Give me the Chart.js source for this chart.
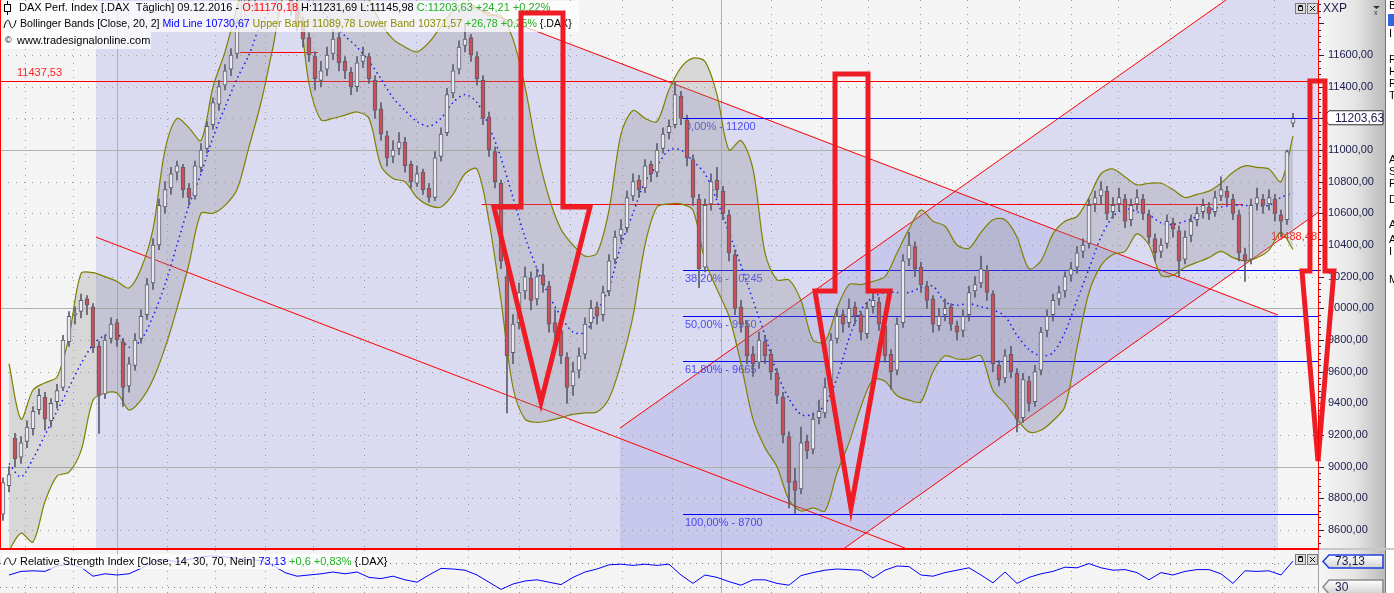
<!DOCTYPE html>
<html lang="de">
<head>
<meta charset="UTF-8">
<title>DAX Perf. Index – Täglich</title>
<style>
  html, body { margin: 0; padding: 0; background: #f4f4f4; overflow: hidden; }
  #wrap { position: relative; width: 1394px; height: 593px; }
  #mainChart { position: absolute; left: 0; top: 0; }
  #rsiChart { position: absolute; left: 0; top: 550px; }
  #sep { position: absolute; left: 0; top: 548px; width: 1319px; height: 2px; background: #ff0000; }
  #sepAxis { position: absolute; left: 1319px; top: 548px; width: 75px; height: 2px; background: #c8c8c8; }
</style>
<script src="https://cdn.jsdelivr.net/npm/chart.js"></script>
</head>
<body>
<div id="wrap">
  <canvas id="mainChart" width="1394" height="548"></canvas>
  <div id="sep"></div><div id="sepAxis"></div>
  <canvas id="rsiChart" width="1394" height="43"></canvas>
</div>
<script>
// ---------- data (one candle ~ 2.5 trading days, index 0..215) ----------
const opens = [8700,8880,9180,9060,9160,9240,9360,9440,9290,9410,
  9500,9790,9960,9980,10060,10010,9760,9460,9810,9910,
  9790,9510,9640,9810,9960,10160,10400,10640,10760,10860,
  10890,10760,10710,10890,11010,11160,11290,11410,11510,11610,
  11810,11960,12040,12010,12160,12210,12340,12240,12090,11910,
  11810,11710,11590,11440,11510,11610,11710,11560,11490,11400,
  11560,11590,11440,11260,11090,10960,11010,11050,10910,10790,
  10860,10760,10700,10960,11110,11360,11510,11660,11710,11590,
  11440,11210,10990,10790,10200,9720,9910,10110,10190,10060,
  10210,10140,9910,9860,9690,9510,9610,9710,9910,10010,
  9960,10110,10310,10460,10510,10710,10810,10760,10910,10860,
  11010,11110,11160,11340,11190,10940,10690,10260,10660,10810,
  10740,10590,10340,10010,9890,9710,9660,9790,9710,9590,
  9440,9190,8910,8860,9160,9110,9310,9340,9510,9810,
  9960,9910,10010,9960,9840,10010,10040,9890,9710,9610,
  9910,10310,10390,10260,10140,10060,9890,9960,10010,9890,
  9860,9960,10110,10160,10240,10090,9640,9560,9710,9590,
  9310,9540,9410,9610,9860,9960,10060,10110,10210,10260,
  10360,10410,10660,10710,10740,10610,10660,10690,10560,10660,
  10690,10590,10440,10360,10410,10540,10490,10310,10460,10560,
  10610,10640,10610,10710,10740,10690,10590,10340,10310,10660,
  10690,10660,10690,10590,10560,11170.18];
const highs = [8930,9000,9210,9190,9290,9380,9490,9470,9430,9520,
  9830,9980,10010,10090,10080,10030,9790,9830,9940,9930,
  9810,9690,9840,9990,10190,10440,10690,10800,10890,10930,
  10910,10790,10930,11040,11180,11330,11440,11540,11640,11830,
  11990,12090,12080,12190,12250,12390,12370,12270,12110,11950,
  11840,11740,11620,11560,11650,11760,11740,11590,11520,11590,
  11650,11610,11470,11300,11120,11060,11110,11080,10930,10900,
  10880,10790,10990,11140,11390,11540,11690,11800,11730,11620,
  11470,11240,11020,10810,10280,9960,10160,10260,10230,10250,
  10280,10170,9990,9880,9720,9660,9750,9940,10050,10040,
  10140,10340,10490,10560,10740,10850,10840,10940,10930,11040,
  11140,11190,11430,11370,11220,10970,10720,10690,10850,10890,
  10770,10620,10370,10050,9920,9760,9850,9830,9740,9620,
  9470,9220,8990,9250,9200,9340,9420,9560,9840,10000,
  9990,10060,10040,9980,10040,10100,10070,9920,9740,9940,
  10340,10480,10420,10290,10170,10080,10000,10060,10030,9920,
  9990,10140,10200,10330,10270,10110,9670,9740,9760,9620,
  9590,9570,9640,9880,9990,10090,10140,10230,10290,10390,
  10440,10690,10740,10800,10770,10700,10760,10720,10690,10750,
  10720,10620,10470,10440,10590,10570,10520,10490,10590,10640,
  10690,10670,10740,10830,10770,10720,10620,10380,10690,10760,
  10720,10750,10720,10620,11000,11231.69];
const lows = [8660,8840,9000,9020,9120,9200,9330,9230,9250,9370,
  9480,9760,9900,9940,9960,9720,9210,9430,9780,9760,
  9380,9470,9610,9780,9930,10120,10370,10600,10720,10810,
  10700,10650,10690,10860,10980,11130,11250,11380,11470,11580,
  11770,11900,11880,11960,12080,12170,12200,12050,11850,11750,
  11650,11560,11380,11400,11470,11570,11500,11450,11350,11370,
  11520,11420,11200,11060,10900,10920,10970,10860,10760,10770,
  10720,10670,10680,10930,11090,11330,11480,11620,11560,11410,
  11160,10960,10760,10250,9340,9650,9870,10060,9990,10020,
  10100,9850,9800,9650,9400,9450,9560,9680,9870,9900,
  9920,10080,10280,10420,10480,10680,10700,10730,10800,10830,
  10980,11070,11140,11160,10900,10650,10130,10230,10620,10700,
  10560,10300,9960,9850,9650,9570,9620,9650,9550,9400,
  9150,8740,8700,8830,9050,9080,9270,9310,9480,9780,
  9850,9880,9900,9800,9810,9970,9860,9660,9490,9580,
  9880,10270,10200,10100,10000,9850,9860,9920,9860,9800,
  9820,9920,10070,10130,10050,9600,9510,9530,9560,9220,
  9280,9350,9380,9580,9820,9920,10020,10070,10170,10220,
  10320,10380,10610,10660,10560,10570,10620,10510,10520,10620,
  10560,10410,10300,10320,10380,10450,10200,10280,10420,10520,
  10570,10560,10580,10680,10660,10560,10300,10170,10280,10620,
  10600,10620,10550,10450,10530,11145.98];
const closes = [8900,8950,9050,9150,9250,9350,9450,9300,9400,9480,
  9800,9950,9970,10050,10020,9750,9450,9800,9900,9800,
  9500,9650,9800,9950,10150,10400,10650,10750,10850,10900,
  10750,10700,10900,11000,11150,11300,11400,11500,11600,11800,
  11950,12050,12000,12150,12200,12350,12250,12100,11900,11800,
  11700,11600,11450,11500,11600,11700,11550,11500,11400,11550,
  11600,11450,11250,11100,10950,11000,11050,10900,10800,10850,
  10750,10700,10950,11100,11350,11500,11650,11700,11600,11450,
  11200,11000,10800,10300,9700,9900,10100,10200,10050,10200,
  10150,9900,9850,9700,9500,9600,9700,9900,10000,9950,
  10100,10300,10450,10500,10700,10800,10750,10900,10850,11000,
  11100,11150,11350,11200,10950,10700,10250,10650,10800,10750,
  10600,10350,10000,9900,9700,9650,9800,9700,9600,9450,
  9200,8900,8850,9150,9100,9300,9350,9500,9800,9950,
  9900,10000,9950,9850,10000,10050,9900,9700,9600,9900,
  10300,10400,10250,10150,10050,9900,9950,10000,9900,9850,
  9950,10100,10150,10250,10100,9650,9550,9700,9600,9300,
  9550,9400,9600,9850,9950,10050,10100,10200,10250,10350,
  10400,10650,10700,10750,10600,10650,10700,10550,10650,10700,
  10600,10450,10350,10400,10550,10500,10300,10450,10550,10600,
  10650,10600,10700,10750,10700,10600,10350,10300,10650,10700,
  10650,10700,10600,10550,10990,11203.63];

// Bollinger Bands (20, 2), read every second candle (index 1, 3, 5 ... 215)
const bbUpper = [9650,9300,9484,9530,9566,9820,10220,10225,10200,10170,
  10128,10250,10500,11000,11200,11140,11060,11398,11620,11900,
  12150,12300,12400,12500,12550,12500,12450,12350,12250,12100,
  11950,11800,11700,11650,11620,11680,11780,11880,11930,11900,
  11850,11850,11700,11400,11000,10700,10500,10400,10330,10350,
  10620,11100,11250,11200,11180,11380,11520,11580,11560,11350,
  11000,11060,10880,10350,10180,10180,10050,9800,9790,10000,
  10150,10150,10170,10200,10350,10500,10620,10550,10520,10400,
  10380,10480,10560,10560,10450,10250,10300,10470,10550,10580,
  10700,10850,10880,10830,10780,10790,10790,10750,10700,10720,
  10740,10790,10860,10900,10890,10880,10800,11089.78];
const bbMid = [9020,8935,9050,9200,9350,9500,9650,9770,9830,9840,
  9755,9800,9950,10150,10400,10650,10850,11080,11270,11450,
  11600,11800,11900,12000,12000,11950,11880,11800,11720,11650,
  11560,11450,11330,11250,11180,11150,11200,11300,11350,11300,
  11150,10950,10700,10450,10250,10080,9950,9850,9850,9980,
  10130,10400,10600,10800,10900,11000,11000,10930,10850,10680,
  10480,10270,10050,9830,9590,9430,9330,9330,9390,9560,
  9810,9990,10070,10100,10100,10100,10130,10140,10040,10020,
  10030,10010,9990,9950,9830,9740,9700,9720,9850,10050,
  10250,10450,10580,10630,10610,10590,10540,10530,10550,10580,
  10620,10640,10650,10650,10650,10650,10700,10730.67];
const bbLower = [8470,8580,8524,8780,8940,8966,9100,9420,9465,9465,
  9358,9420,9550,9750,10000,10280,10600,10600,10650,10750,
  11020,11300,11650,12000,11950,11420,11190,11200,11220,11240,
  11200,10900,10820,10800,10700,10650,10640,10720,10850,10880,
  10550,10050,9500,9300,9280,9290,9310,9330,9340,9345,
  9430,9650,9950,10400,10640,10660,10660,10620,10300,10120,
  9950,9650,9300,9120,9000,8790,8720,8740,8720,8960,
  9150,9380,9550,9540,9450,9420,9410,9600,9700,9680,
  9680,9700,9480,9400,9300,9220,9230,9290,9380,9750,
  10100,10270,10340,10360,10470,10400,10210,10210,10260,10290,
  10320,10360,10320,10300,10320,10368,10480,10371.57];

// RSI (14), read at the same positions
const rsiValues = [50,56,57,56,65,68,63,48,52,50,
  52,61,72,76,72,76,80,82,80,78,
  76,74,66,54,48,50,52,55,52,55,
  46,44,48,42,38,50,61,60,58,50,
  38,26,35,40,42,38,34,46,55,60,
  67,68,66,68,66,68,50,36,50,46,
  39,33,42,42,36,33,49,54,58,60,
  59,58,45,58,65,64,50,48,54,58,
  62,50,37,55,36,46,52,56,63,62,
  69,62,58,59,54,42,54,50,56,59,
  59,52,36,57,56,57,50,73.13];

// axis ticks and calendar grid (candle index units)
const yTicks = [8600,8800,9000,9200,9400,9600,9800,10000,10200,10400,10600,10800,11000,11200,11400,11600,11800];
const monthLines = [3.67,11.67,19.0,27.33,35.33,43.67,51.67,60.25,68.83,77.42,86.0,94.58,
  103.17,111.5,119.67,128.0,136.33,144.17,152.83,160.67,169.33,178.0,185.83,194.5,203.17,211.83];
const yearLines = [19.0, 119.67];

// drawing tools: [candle index, price]
const downChannelUpper = [[77.8, 11911], [212.5, 9958]];
const downChannelLower = [[15.5, 10450], [150.33, 8486]];
const downChannelArea = [[15.5, 12820], [212.5, 9958], [212.5, 8480], [15.5, 8480]];
const upChannelUpper = [[102.83, 9244], [219.17, 12358]];
const upChannelLower = [[139.83, 8474], [219.17, 10605]];
const upChannelArea = [[102.83, 9244], [219.17, 12358], [219.17, 10605], [102.83, 7480]];
const levelPrices = [11437.53, 11620, 10660];
const levelFrom = [-0.5, 39.5, 79.8];
const levelTo = [219.17, 52.5, 206.7];
const fibNames = ['0,00%', '38,20%', '50,00%', '61,80%', '100,00%'];
const fibPrices = [11200, 10245, 9950, 9665, 8700];
const fibFrom = 113.33;
const arrowShapes = [
  [[86.33,11865],[93.33,11865],[93.33,10640],[97.83,10640],[89.67,9408],[81.83,10640],[86.33,10640]],
  [[138.67,11480],[144.17,11480],[144.17,10109],[147.83,10109],[141.33,8739],[135.33,10109],[138.67,10109]],
  [[217.83,11436],[220.33,11436],[220.33,10236],[221.83,10236],[219.17,9036],[216.5,10236],[217.83,10236]]
];

// ---------- helpers ----------
const FONT = '"Liberation Sans", Arial, sans-serif';
const last = closes.length - 1;
const fmt = v => v.toFixed(2).replace('.', ',');
const X = (c, i) => c.scales.x.getPixelForValue(i);
const Y = (c, v) => c.scales.y.getPixelForValue(v);

function tracePath(ctx, c, pts) {
  ctx.beginPath();
  pts.forEach(([i, v], k) => k ? ctx.lineTo(X(c, i), Y(c, v)) : ctx.moveTo(X(c, i), Y(c, v)));
}
function textRuns(ctx, x, y, parts) {
  parts.forEach(([t, col]) => { ctx.fillStyle = col; ctx.fillText(t, x, y); x += ctx.measureText(t).width; });
  return x;
}
function axisPanel(ctx, left, h) {
  const g = ctx.createLinearGradient(left, 0, 1385, 0);
  g.addColorStop(0, '#f7f7f7');
  g.addColorStop(0.55, '#e5e5e5');
  g.addColorStop(1, '#bbbbbb');
  ctx.fillStyle = g;
  ctx.fillRect(left + 1, 0, 1385 - left, h);
  ctx.fillStyle = '#777777';
  ctx.fillRect(1385, 0, 1, h);
  ctx.fillStyle = '#ffffff';
  ctx.fillRect(1386, 0, 8, h);
}
function monthGrid(ctx, c, top, bottom) {
  monthLines.forEach(i => {
    const x = Math.round(X(c, i)) + 0.5;
    const solid = yearLines.includes(i);
    ctx.strokeStyle = solid ? '#a8b5a8' : '#9c9c9c';
    ctx.setLineDash(solid ? [] : [1, 6]);
    ctx.beginPath(); ctx.moveTo(x, top); ctx.lineTo(x, bottom); ctx.stroke();
  });
  ctx.setLineDash([]);
}
function paneButtons(ctx, y) {
  [1295, 1307].forEach((x, k) => {
    ctx.fillStyle = '#dcdcdc'; ctx.fillRect(x, y, 10, 10);
    ctx.strokeStyle = '#7a7a7a'; ctx.lineWidth = 1; ctx.strokeRect(x + 0.5, y + 0.5, 10, 10);
    ctx.strokeStyle = '#111111';
    ctx.beginPath();
    if (k === 0) { ctx.rect(x + 3.5, y + 3.5, 4, 4); ctx.moveTo(x + 3.5, y + 2.5); ctx.lineTo(x + 7.5, y + 2.5); }
    else { ctx.moveTo(x + 3, y + 3); ctx.lineTo(x + 8, y + 8); ctx.moveTo(x + 8, y + 3); ctx.lineTo(x + 3, y + 8); }
    ctx.stroke();
  });
}
function tagBox(ctx, x0, y0, w, h, border, text, plain) {
  const mid = y0 + h / 2;
  ctx.beginPath();
  ctx.moveTo(x0, mid); ctx.lineTo(x0 + 6, y0); ctx.lineTo(x0 + w, y0);
  ctx.lineTo(x0 + w, y0 + h); ctx.lineTo(x0 + 6, y0 + h); ctx.closePath();
  if (plain) { ctx.fillStyle = '#ffffff'; }
  else {
    const g = ctx.createLinearGradient(0, y0, 0, y0 + h);
    g.addColorStop(0, '#ffffff'); g.addColorStop(1, '#d2d2d2');
    ctx.fillStyle = g;
  }
  ctx.fill();
  ctx.strokeStyle = border; ctx.lineWidth = plain ? 1 : 1.5; ctx.stroke();
  ctx.fillStyle = '#1b1b4b'; ctx.textAlign = 'left'; ctx.textBaseline = 'middle';
  ctx.font = '12px ' + FONT;
  ctx.fillText(text, x0 + 12, mid + 0.5);
}

// ---------- main pane decorations ----------
const mainDecor = {
  id: 'mainDecor',
  beforeDraw(c) {
    const { ctx, chartArea: a } = c;
    ctx.save();
    ctx.fillStyle = '#f4f4f4';
    ctx.fillRect(0, 0, c.width, c.height);
    axisPanel(ctx, a.right, c.height);
    // side panel letters
    ctx.font = '11px ' + FONT; ctx.textBaseline = 'middle'; ctx.textAlign = 'left';
    ctx.fillStyle = '#3366dd'; ctx.fillRect(1388, 14, 6, 12);
    ctx.fillStyle = '#000';
    [['B', 6], ['I', 34], ['F', 60], ['H', 72], ['F', 84], ['T', 96], ['A', 160], ['S', 172], ['F', 184], ['D', 200], ['A', 225], ['A', 240], ['I', 252], ['M', 280]]
      .forEach(([t, y]) => ctx.fillText(t, 1389, y));
    ctx.restore();
  },
  beforeDatasetsDraw(c) {
    const { ctx, chartArea: a } = c;
    ctx.save();
    ctx.beginPath(); ctx.rect(a.left, a.top, a.width, a.height); ctx.clip();

    // channel areas
    ctx.fillStyle = 'rgba(160,160,232,0.3)';
    tracePath(ctx, c, downChannelArea); ctx.closePath(); ctx.fill();
    tracePath(ctx, c, upChannelArea); ctx.closePath(); ctx.fill();

    // grid
    ctx.lineWidth = 1;
    yTicks.forEach(v => {
      const y = Math.round(Y(c, v)) + 0.5;
      const solid = v % 1000 === 0;
      ctx.strokeStyle = solid ? '#a8b5a8' : '#9c9c9c';
      ctx.setLineDash(solid ? [] : [1, 7]);
      ctx.beginPath(); ctx.moveTo(a.left, y); ctx.lineTo(a.right, y); ctx.stroke();
    });
    ctx.setLineDash([]);
    monthGrid(ctx, c, a.top, a.bottom);

    // red levels and channels
    ctx.strokeStyle = '#ff0000'; ctx.lineWidth = 1;
    levelPrices.forEach((v, k) => {
      const y = Math.round(Y(c, v)) + 0.5;
      ctx.beginPath(); ctx.moveTo(X(c, levelFrom[k]), y); ctx.lineTo(X(c, levelTo[k]), y); ctx.stroke();
    });
    [downChannelUpper, downChannelLower, upChannelUpper, upChannelLower].forEach(l => { tracePath(ctx, c, l); ctx.stroke(); });

    // fibonacci
    ctx.strokeStyle = '#0000ff';
    ctx.font = '11px ' + FONT; ctx.textBaseline = 'middle'; ctx.textAlign = 'left';
    fibPrices.forEach((v, k) => {
      const y = Math.round(Y(c, v)) + 0.5;
      ctx.beginPath(); ctx.moveTo(X(c, fibFrom), y); ctx.lineTo(a.right, y); ctx.stroke();
      ctx.fillStyle = 'rgba(40,40,240,0.8)';
      ctx.fillText(fibNames[k] + ' - ' + fibPrices[k], X(c, fibFrom) + 2, y + 8.5);
    });

    // level labels
    ctx.fillStyle = '#ff2020';
    ctx.fillText(fmt(levelPrices[0]), 17, Y(c, levelPrices[0]) - 7.5);
    ctx.textAlign = 'right';
    ctx.fillText('10488,48', a.right - 1, 237);
    ctx.restore();
  },
  afterDraw(c) {
    const { ctx, chartArea: a } = c;
    ctx.save();
    // axis tick marks
    ctx.strokeStyle = '#20203c'; ctx.lineWidth = 1;
    for (let v = 8520; v <= 11920; v += 40) {
      const y = Math.round(Y(c, v)) + 0.5;
      ctx.beginPath(); ctx.moveTo(a.right + 1, y); ctx.lineTo(a.right + (v % 200 === 0 ? 6 : 3), y); ctx.stroke();
    }
    ctx.font = '12px ' + FONT; ctx.fillStyle = '#1b1b4b'; ctx.textBaseline = 'middle'; ctx.textAlign = 'left';
    ctx.fillText('XXP', 1323, 9);
    ctx.fillStyle = '#333';
    ctx.beginPath(); ctx.moveTo(1373, 6); ctx.lineTo(1380, 6); ctx.lineTo(1376.5, 9); ctx.fill();
    ctx.font = '7px ' + FONT; ctx.fillText('x', 1374, 13);

    // last price box
    ctx.strokeStyle = '#0000ff';
    const yl = Math.round(Y(c, closes[last])) + 0.5;
    ctx.beginPath(); ctx.moveTo(X(c, fibFrom), yl); ctx.lineTo(a.right, yl); ctx.stroke();
    tagBox(ctx, 1323, Y(c, closes[last]) - 7, 60, 14, '#303030', fmt(closes[last]), true);

    paneButtons(ctx, 3);

    // legend
    ctx.fillStyle = 'rgba(255,255,255,0.72)';
    ctx.fillRect(1, 1, 578, 31);
    ctx.fillRect(1, 32, 150, 17);
    ctx.font = '11px ' + FONT; ctx.textBaseline = 'middle'; ctx.textAlign = 'left';
    ctx.strokeStyle = '#000'; ctx.lineWidth = 1;
    ctx.beginPath(); ctx.moveTo(7.5, 1); ctx.lineTo(7.5, 15); ctx.stroke();
    ctx.fillStyle = '#fff'; ctx.fillRect(4.5, 4.5, 6, 7); ctx.strokeRect(4.5, 4.5, 6, 7);
    textRuns(ctx, 19, 8, [
      ['DAX Perf. Index [.DAX  Täglich] 09.12.2016 - ', '#000000'],
      ['O:' + fmt(opens[last]), '#ff0000'],
      [' H:' + fmt(highs[last]) + ' L:' + fmt(lows[last]) + ' ', '#000000'],
      ['C:' + fmt(closes[last]) + ' +24,21 +0,22%', '#22b022']
    ]);
    ctx.beginPath(); ctx.moveTo(4, 28); ctx.bezierCurveTo(6, 18, 9, 19, 10, 24); ctx.bezierCurveTo(11, 29, 14, 30, 16, 20); ctx.stroke();
    ctx.font = '10.6px ' + FONT;
    textRuns(ctx, 20, 24.5, [
      ['Bollinger Bands [Close, 20, 2] ', '#000000'],
      ['Mid Line ' + fmt(bbMid[bbMid.length - 1]) + ' ', '#0000ff'],
      ['Upper Band ' + fmt(bbUpper[bbUpper.length - 1]) + ' Lower Band ' + fmt(bbLower[bbLower.length - 1]) + ' ', '#8c8c00'],
      ['+26,78 +0,25%', '#22b022'],
      [' {.DAX}', '#000000']
    ]);
    ctx.font = '9px ' + FONT; ctx.fillStyle = '#000'; ctx.fillText('©', 5, 40.5);
    ctx.font = '11px ' + FONT; ctx.fillText('www.tradesignalonline.com', 17, 40.5);

    // red arrows
    ctx.strokeStyle = '#ee1c25'; ctx.lineWidth = 5; ctx.lineJoin = 'miter';
    arrowShapes.forEach(s => { tracePath(ctx, c, s); ctx.closePath(); ctx.stroke(); });

    // pane border
    ctx.strokeStyle = '#ff0000'; ctx.lineWidth = 1;
    ctx.beginPath(); ctx.moveTo(0.5, 0); ctx.lineTo(0.5, c.height); ctx.moveTo(a.right + 0.5, 0); ctx.lineTo(a.right + 0.5, c.height); ctx.stroke();
    ctx.restore();
  }
};

// ---------- RSI pane decorations ----------
const rsiDecor = {
  id: 'rsiDecor',
  beforeDraw(c) {
    const { ctx, chartArea: a } = c;
    ctx.save();
    ctx.fillStyle = '#f4f4f4'; ctx.fillRect(0, 0, c.width, c.height);
    axisPanel(ctx, a.right, c.height);
    ctx.restore();
  },
  beforeDatasetsDraw(c) {
    const { ctx, chartArea: a } = c;
    ctx.save();
    ctx.lineWidth = 1;
    monthGrid(ctx, c, a.top, a.bottom);
    ctx.strokeStyle = '#7c7c7c'; ctx.setLineDash([1, 5]);
    [70, 30].forEach(v => {
      const y = Math.round(Y(c, v)) + 0.5;
      ctx.beginPath(); ctx.moveTo(a.left, y); ctx.lineTo(a.right, y); ctx.stroke();
    });
    ctx.setLineDash([]);
    ctx.strokeStyle = '#a0a0a0';
    ctx.beginPath(); ctx.moveTo(a.right + 0.5, 0); ctx.lineTo(a.right + 0.5, c.height); ctx.stroke();
    ctx.restore();
  },
  afterDraw(c) {
    const { ctx } = c;
    ctx.save();
    ctx.fillStyle = 'rgba(255,255,255,0.75)';
    ctx.fillRect(2, 4, 376, 15);
    ctx.strokeStyle = '#000'; ctx.lineWidth = 1;
    ctx.beginPath(); ctx.moveTo(4, 15); ctx.bezierCurveTo(6, 6, 9, 7, 10, 11); ctx.bezierCurveTo(11, 16, 14, 17, 16, 8); ctx.stroke();
    ctx.font = '11px ' + FONT; ctx.textBaseline = 'middle'; ctx.textAlign = 'left';
    textRuns(ctx, 20, 11.5, [
      ['Relative Strength Index [Close, 14, 30, 70, Nein] ', '#000000'],
      [fmt(rsiValues[rsiValues.length - 1]), '#0000ff'],
      [' +0,6 +0,83%', '#22b022'],
      [' {.DAX}', '#000000']
    ]);
    paneButtons(ctx, 4);
    tagBox(ctx, 1323, 5, 60, 13, '#1f3fe0', fmt(rsiValues[rsiValues.length - 1]), false);
    tagBox(ctx, 1323, 30, 60, 14, '#8a8a8a', '30', false);
    ctx.restore();
  }
};

// ---------- charts ----------
const wickData = highs.map((h, i) => ({ x: i, y: [lows[i], h] }));
const bodyData = opens.map((o, i) => ({ x: i, y: [o, closes[i]] }));
const bodyColors = opens.map((o, i) => closes[i] >= o ? '#e9e9ee' : '#c94f58');
const bandPts = arr => arr.map((v, k) => ({ x: 1 + 2 * k, y: v }));

const xScale = { type: 'linear', min: -0.5, max: 219.17, display: false, offset: false, grid: { offset: false } };
// the right axis must not push the plot area in from top and bottom
const noPad = s => { s.width = 76; s.paddingTop = 0; s.paddingBottom = 0; };

new Chart(document.getElementById('mainChart'), {
  type: 'bar',
  data: {
    datasets: [
      { type: 'line', data: bandPts(bbUpper), borderColor: '#808000', borderWidth: 1.2, pointRadius: 0,
        tension: 0.3, fill: '+1', backgroundColor: 'rgba(140,140,140,0.28)', order: 10 },
      { type: 'line', data: bandPts(bbLower), borderColor: '#808000', borderWidth: 1.2, pointRadius: 0,
        tension: 0.3, fill: false, order: 9 },
      { type: 'line', data: bandPts(bbMid), borderColor: '#1515ff', borderWidth: 1.5, borderDash: [1.5, 3.5],
        pointRadius: 0, tension: 0.3, fill: false, order: 8 },
      { data: wickData, backgroundColor: '#5c5c6c', barThickness: 1, grouped: false, order: 2 },
      { data: bodyData, backgroundColor: bodyColors, borderColor: '#5c5c6c', borderWidth: 1,
        borderSkipped: false, barThickness: 4, grouped: false, order: 1 }
    ]
  },
  options: {
    responsive: false,
    animation: false,
    events: [],
    layout: { padding: 0, autoPadding: false },
    plugins: { legend: { display: false }, tooltip: { enabled: false } },
    scales: {
      x: xScale,
      y: {
        position: 'right', min: 8486.3, max: 11947.4, beginAtZero: false,
        afterFit: noPad,
        afterBuildTicks(s) { s.ticks = yTicks.filter(v => v <= 11600).map(v => ({ value: v })); },
        grid: { display: false, drawTicks: false },
        border: { display: false },
        ticks: { padding: 10, color: '#1b1b4b', font: { family: FONT, size: 11 }, callback: v => fmt(v) }
      }
    }
  },
  plugins: [mainDecor]
});

new Chart(document.getElementById('rsiChart'), {
  type: 'line',
  data: {
    datasets: [{ data: bandPts(rsiValues), borderColor: '#0000ff', borderWidth: 1, pointRadius: 0, tension: 0, fill: false }]
  },
  options: {
    responsive: false,
    animation: false,
    events: [],
    layout: { padding: 0, autoPadding: false },
    plugins: { legend: { display: false }, tooltip: { enabled: false } },
    scales: {
      x: xScale,
      y: {
        position: 'right', min: 20, max: 91.67,
        afterFit: noPad,
        grid: { display: false, drawTicks: false },
        border: { display: false },
        ticks: { display: false }
      }
    }
  },
  plugins: [rsiDecor]
});
</script>
</body>
</html>
